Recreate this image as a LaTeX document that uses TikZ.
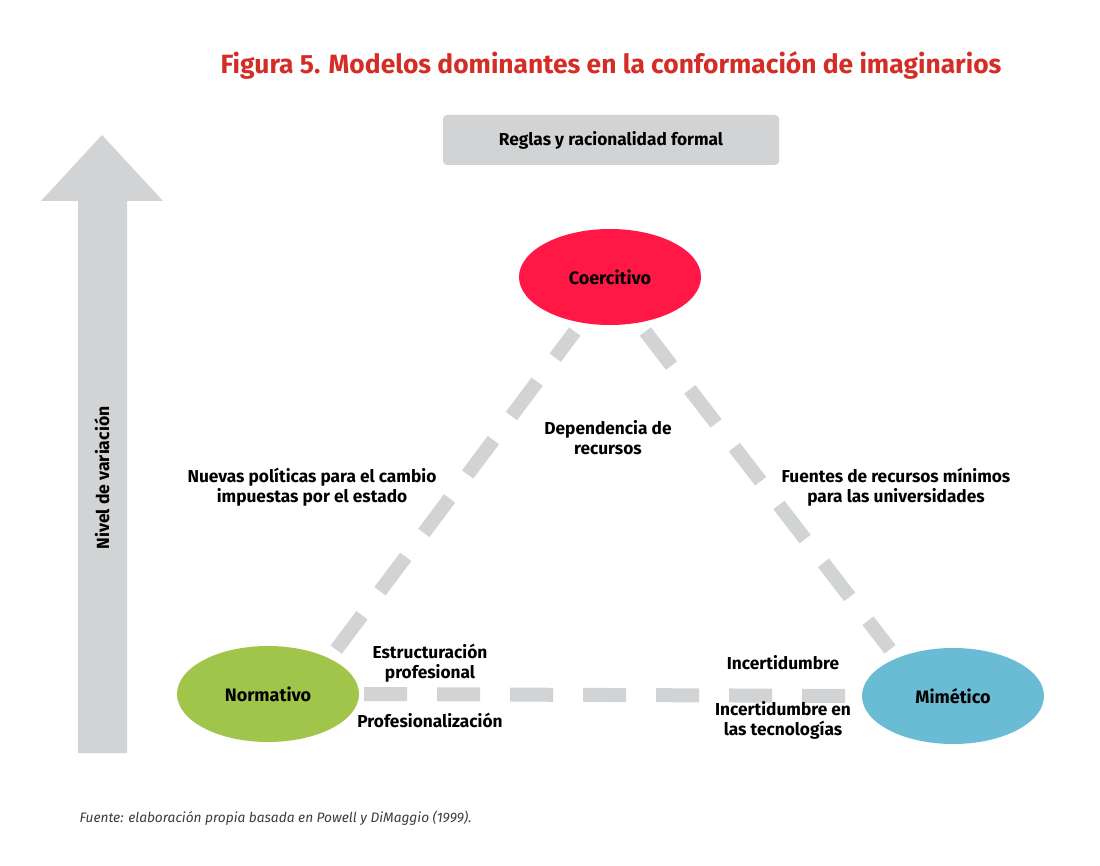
\documentclass[tikz,border=0pt]{standalone}
\usepackage{fontspec}
\setmainfont{Fira Sans}
\usepackage{xcolor}
\usetikzlibrary{shapes.geometric,calc}
\definecolor{titlered}{RGB}{212,45,38}
\definecolor{panelgray}{RGB}{209,211,212}
\definecolor{coercred}{RGB}{255,24,70}
\definecolor{normgreen}{RGB}{161,196,75}
\definecolor{mimblue}{RGB}{106,188,213}
\definecolor{notegray}{RGB}{60,60,60}

\begin{document}
\begin{tikzpicture}[x=1pt,y=-1pt,
    model/.style={ellipse, draw=none, minimum width=182pt, minimum height=96pt,
        inner sep=0pt, font=\fontsize{18}{20}\selectfont\bfseries},
    lbl/.style={align=center, font=\fontsize{17.3}{20}\selectfont\bfseries},
    dashline/.style={panelgray, line width=14pt, dash pattern=on 43pt off 30pt}]
    \useasboundingbox (0,0) rectangle (1100,866);

    % Title
    \node[font=\fontsize{26.4}{30}\selectfont\bfseries, text=titlered] (title) at (611,65)
        {Figura 5. Modelos dominantes en la conformación de imaginarios};

    % Top box
    \node[fill=panelgray, rounded corners=4pt, minimum width=336pt, minimum height=50pt,
        font=\fontsize{17.3}{20}\selectfont\bfseries] (rules) at (611,140)
        {Reglas y racionalidad formal};

    % Vertical arrow
    \fill[panelgray] (78,753) -- (78,201) -- (41,201) -- (102,135) -- (163,201)
        -- (127,201) -- (127,753) -- cycle;
    \node[rotate=90, font=\fontsize{17.6}{20}\selectfont\bfseries] (level) at (102,478)
        {Nivel de variación};

    % Models
    \node[model, fill=coercred] (coer) at (610,277) {Coercitivo};
    \node[model, fill=normgreen] (norm) at (268,694) {Normativo};
    \node[model, fill=mimblue] (mim) at (953,696) {Mimético};

    % Dashed connectors
    \draw[dashline, shorten <=11pt, shorten >=11pt] (norm.30) -- (coer.238);
    \draw[dashline, shorten <=11pt, shorten >=11pt] (coer.302) -- (mim.146);
    \draw[dashline, shorten <=5pt, shorten >=16pt] (norm.east) -- (mim.west);

    % Labels
    \node[lbl] (dep) at (608,438) {Dependencia de\\recursos};
    \node[lbl] (pol) at (312,487) {Nuevas políticas para el cambio\\impuestas por el estado};
    \node[lbl] (fue) at (896,487) {Fuentes de recursos mínimos\\para las universidades};
    \node[lbl] (estr) at (430,663) {Estructuración\\profesional};
    \node[lbl] (prof) at (430,720) {Profesionalización};
    \node[lbl] (inc) at (783,663) {Incertidumbre};
    \node[lbl] (tec) at (783,720) {Incertidumbre en\\las tecnologías};

    % Source note
    \node[anchor=west, font=\fontsize{13.7}{16}\selectfont\itshape, text=notegray] (src) at (76,818)
        {Fuente: elaboración propia basada en Powell y DiMaggio (1999).};
\end{tikzpicture}
\end{document}
